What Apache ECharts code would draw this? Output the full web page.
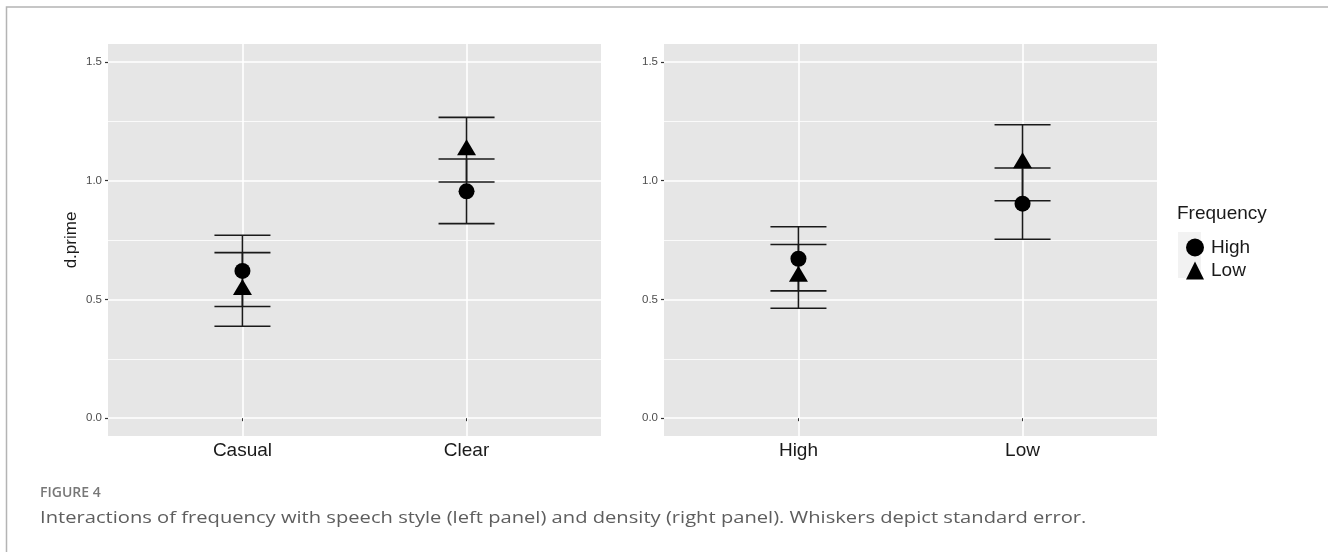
<!DOCTYPE html>
<html>
<head>
<meta charset="utf-8">
<script src="https://cdn.jsdelivr.net/npm/echarts@6/dist/echarts.min.js"></script>
<style>
html,body{margin:0;padding:0;background:#fff;}
#chart{width:1328px;height:552px;}
</style>
</head>
<body>
<div id="chart"></div>
<script>
// ---- data ----
const categoriesLeft = ['Casual', 'Clear'];
const categoriesRight = ['High', 'Low'];
const highLeftMean = [0.620, 0.955];
const highLeftSE = [0.150, 0.136];
const lowLeftMean = [0.542, 1.130];
const lowLeftSE = [0.155, 0.136];
const highRightMean = [0.671, 0.903];
const highRightSE = [0.135, 0.150];
const lowRightMean = [0.597, 1.075];
const lowRightSE = [0.134, 0.160];
const yTicks = [0, 0.5, 1.0, 1.5];
const yMinorTicks = [0.25, 0.75, 1.25];
const yTickLabels = ['0.0', '0.5', '1.0', '1.5'];
const legendTitle = 'Frequency';
const yTitle = 'd.prime';
const figureLabel = 'FIGURE 4';
const captionText = 'Interactions of frequency with speech style (left panel) and density (right panel). Whiskers depict standard error.';

// ---- helpers ----
const catPos = cats => cats.map((c, i) => i + 1);
const FONT = '"Liberation Sans", Arial, sans-serif';

function xAxisFor(gridIndex, cats) {
  return {
    type: 'value', gridIndex, min: 0.4, max: 2.6,
    axisLine: { show: false },
    axisTick: { show: true, length: 3, lineStyle: { color: '#333', width: 1 }, customValues: catPos(cats) },
    axisLabel: {
      customValues: catPos(cats), margin: 5,
      color: '#1a1a1a', fontSize: 19, fontFamily: FONT,
      formatter: v => cats[Math.round(v) - 1] || ''
    },
    splitLine: { show: true, lineStyle: { color: '#ffffff', width: 1.6 } }
  };
}
function yAxisMajor(gridIndex, withName) {
  return {
    type: 'value', gridIndex, min: -0.075, max: 1.575,
    name: withName ? yTitle : '', nameLocation: 'middle', nameGap: 28,
    nameTextStyle: { color: '#1a1a1a', fontSize: 17, fontFamily: FONT },
    axisLine: { show: false },
    axisTick: { show: true, length: 3, lineStyle: { color: '#333', width: 1.2 }, customValues: yTicks },
    axisLabel: {
      customValues: yTicks, margin: 6,
      color: '#4d4d4d', fontSize: 11.5, fontFamily: FONT,
      formatter: v => { const i = yTicks.findIndex(t => Math.abs(t - v) < 1e-6); return i >= 0 ? yTickLabels[i] : ''; }
    },
    splitLine: { show: true, lineStyle: { color: '#ffffff', width: 1.6 } }
  };
}
function yAxisMinor(gridIndex) {
  return {
    type: 'value', gridIndex, min: -0.075, max: 1.575, position: 'left',
    axisLine: { show: false },
    axisTick: { show: false, customValues: yMinorTicks },
    axisLabel: { show: false, customValues: yMinorTicks },
    splitLine: { show: true, lineStyle: { color: '#ffffff', width: 0.8 } }
  };
}
function errData(cats, mean, se) {
  return cats.map((c, i) => [i + 1, mean[i], se[i]]);
}
function errSeries(xi, yi, data) {
  return {
    type: 'custom', xAxisIndex: xi, yAxisIndex: yi, z: 2, silent: true,
    data,
    renderItem: (params, api) => {
      const x = api.value(0), m = api.value(1), s = api.value(2);
      const top = api.coord([x, m + s]);
      const bot = api.coord([x, m - s]);
      const hw = api.size([0.125, 0])[0];
      const style = { stroke: '#1a1a1a', lineWidth: 1.6 };
      return {
        type: 'group',
        children: [
          { type: 'line', shape: { x1: top[0], y1: top[1], x2: bot[0], y2: bot[1] }, style },
          { type: 'line', shape: { x1: top[0] - hw, y1: top[1], x2: top[0] + hw, y2: top[1] }, style },
          { type: 'line', shape: { x1: bot[0] - hw, y1: bot[1], x2: bot[0] + hw, y2: bot[1] }, style }
        ]
      };
    }
  };
}
function pointSeries(name, xi, yi, cats, mean) {
  const tri = name === 'Low';
  return {
    type: 'scatter', name, xAxisIndex: xi, yAxisIndex: yi, z: 3,
    symbol: tri ? 'triangle' : 'circle',
    symbolSize: tri ? [19, 16] : 16,
    symbolOffset: tri ? [0, -2.5] : [0, 0],
    itemStyle: { color: '#000', opacity: 1 },
    data: cats.map((c, i) => [i + 1, mean[i]])
  };
}

const chart = echarts.init(document.getElementById('chart'), null, { renderer: 'canvas' });
chart.setOption({
  animation: false,
  backgroundColor: '#ffffff',
  grid: [
    { left: 108, top: 44, width: 493, height: 392, backgroundColor: '#e6e6e6', show: true, borderWidth: 0 },
    { left: 664, top: 44, width: 493, height: 392, backgroundColor: '#e6e6e6', show: true, borderWidth: 0 }
  ],
  xAxis: [xAxisFor(0, categoriesLeft), xAxisFor(1, categoriesRight)],
  yAxis: [yAxisMajor(0, true), yAxisMinor(0), yAxisMajor(1, false), yAxisMinor(1)],
  legend: {
    orient: 'vertical', left: 1181, top: 233, itemWidth: 18, itemHeight: 18, itemGap: 4,
    data: ['High', 'Low'],
    textStyle: { color: '#1a1a1a', fontSize: 19, fontFamily: FONT, padding: [0, 0, 0, 2] },
    selectedMode: false
  },
  graphic: [
    { type: 'polyline', shape: { points: [[6.5, 560], [6.5, 7], [1340, 7]] }, style: { stroke: '#b4b4b4', lineWidth: 1.5, fill: null }, silent: true },
    { type: 'rect', shape: { x: 1178, y: 232, width: 23, height: 46 }, style: { fill: '#f2f2f2' }, z: -1, silent: true },
    { type: 'text', x: 1177, y: 214, style: { text: legendTitle, fill: '#1a1a1a', font: '19px ' + FONT, textVerticalAlign: 'middle' }, silent: true },
    { type: 'text', x: 40, y: 493, style: { text: figureLabel, fill: '#777777', font: '600 14px "Open Sans", sans-serif', textVerticalAlign: 'middle' }, silent: true },
    { type: 'text', x: 40, y: 518, scaleX: 1.185, style: { text: captionText, fill: '#5e5e5e', font: '17px "Open Sans", sans-serif', textVerticalAlign: 'middle' }, silent: true }
  ],
  series: [
    errSeries(0, 0, errData(categoriesLeft, highLeftMean, highLeftSE)),
    errSeries(0, 0, errData(categoriesLeft, lowLeftMean, lowLeftSE)),
    errSeries(1, 2, errData(categoriesRight, highRightMean, highRightSE)),
    errSeries(1, 2, errData(categoriesRight, lowRightMean, lowRightSE)),
    pointSeries('High', 0, 0, categoriesLeft, highLeftMean),
    pointSeries('Low', 0, 0, categoriesLeft, lowLeftMean),
    pointSeries('High', 1, 2, categoriesRight, highRightMean),
    pointSeries('Low', 1, 2, categoriesRight, lowRightMean)
  ]
});
</script>
</body>
</html>
